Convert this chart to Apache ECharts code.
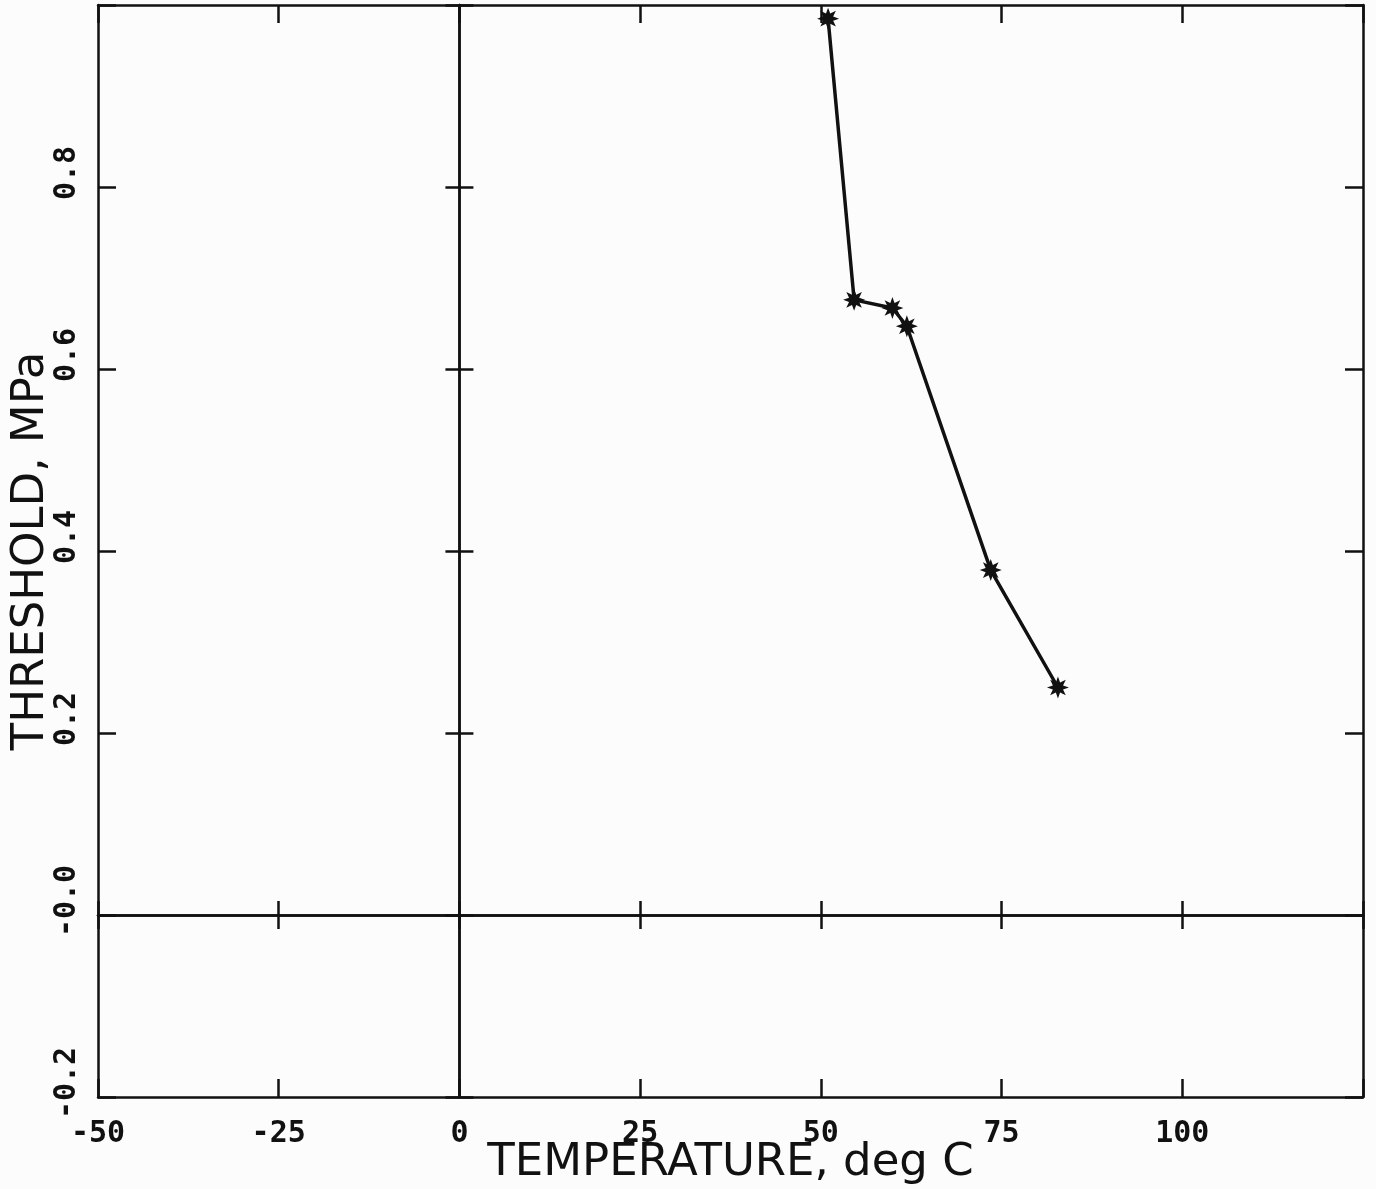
<!DOCTYPE html>
<html>
<head>
<meta charset="utf-8">
<script src="https://cdn.jsdelivr.net/npm/echarts@6/dist/echarts.min.js"></script>
<style>
  html, body { margin: 0; padding: 0; background: #fcfcfc; }
  #chart { width: 1376px; height: 1189px; }
</style>
</head>
<body>
<div id="chart"></div>
<script>
// values
var temperature = [51.0, 54.6, 59.9, 61.9, 73.5, 82.8];
var threshold = [0.985, 0.676, 0.667, 0.647, 0.379, 0.250];

var xTicks = [-50, -25, 0, 25, 50, 75, 100];
var xTickLabels = ['-50', '-25', '0', '25', '50', '75', '100'];
var yTicks = [-0.2, 0, 0.2, 0.4, 0.6, 0.8];
var yTickLabels = ['-0.2', '-0.0', '0.2', '0.4', '0.6', '0.8'];

var ink = '#111';

function lookup(ticks, labels) {
  return function(v) {
    for (var i = 0; i < ticks.length; i++) {
      if (Math.abs(ticks[i] - v) < 1e-9) return labels[i];
    }
    return '';
  };
}

// 8 point star, looks like the plotter asterisk
function asterisk(n) {
  var d = '';
  for (var i = 0; i < n * 2; i++) {
    var a = Math.PI * i / n;
    var r = i % 2 ? 0.5 : 1;
    d += (i ? 'L' : 'M') + (50 + 50 * r * Math.cos(a)).toFixed(1) + ' ' +
      (50 + 50 * r * Math.sin(a)).toFixed(1);
  }
  return 'path://' + d + 'Z';
}

var line = {color: ink, width: 2.5};
var tickFont = {fontFamily: 'DejaVu Sans Mono', fontSize: 30, fontWeight: 'bold', color: ink};
var nameFont = {fontFamily: 'DejaVu Sans', fontSize: 45, color: ink};

function xFrame(extra) {
  var a = {
    type: 'value', min: -50, max: 125, interval: 25,
    axisLine: {onZero: false, lineStyle: line},
    axisTick: {inside: true, length: 18, lineStyle: line},
    axisLabel: {show: false},
    splitLine: {show: false},
  };
  return Object.assign(a, extra);
}

function yFrame(extra) {
  var a = {
    type: 'value', min: -0.2, max: 1.0, interval: 0.2,
    axisLine: {onZero: false, lineStyle: line},
    axisTick: {inside: true, length: 18, lineStyle: line},
    axisLabel: {show: false},
    splitLine: {show: false},
  };
  return Object.assign(a, extra);
}

var chart = echarts.init(document.getElementById('chart'));
chart.setOption({
  animation: false,
  backgroundColor: '#fcfcfc',
  grid: {left: 98, top: 5, right: 13, bottom: 92, outerBoundsMode: 'none'},
  xAxis: [
    xFrame({
      position: 'bottom',
      axisLabel: Object.assign({show: true, margin: 22,
        formatter: lookup(xTicks, xTickLabels)}, tickFont),
      name: 'TEMPERATURE, deg C',
      nameLocation: 'middle',
      nameGap: 44,
      nameMoveOverlap: false,
      nameTextStyle: nameFont,
    }),
    xFrame({position: 'top'}),
    // zero line, ticks cross it
    xFrame({position: 'bottom',
      axisLine: {onZero: true, onZeroAxisIndex: 0, lineStyle: line},
      axisTick: {inside: true, length: 14, lineStyle: line}}),
    xFrame({position: 'bottom',
      axisLine: {onZero: true, onZeroAxisIndex: 0, lineStyle: line},
      axisTick: {inside: false, length: 14, lineStyle: line}}),
  ],
  yAxis: [
    yFrame({
      position: 'left',
      // left padding nudges the rotated labels a bit upward, like the plotter did
      axisLabel: Object.assign({show: true, margin: 16, rotate: 90, padding: [0, 0, 0, 28],
        formatter: lookup(yTicks, yTickLabels)}, tickFont),
      name: 'THRESHOLD, MPa',
      nameLocation: 'middle',
      nameGap: 44,
      nameMoveOverlap: false,
      nameTextStyle: nameFont,
    }),
    yFrame({position: 'right'}),
    yFrame({position: 'left',
      axisLine: {onZero: true, onZeroAxisIndex: 0, lineStyle: line},
      axisTick: {inside: true, length: 14, lineStyle: line}}),
    yFrame({position: 'left',
      axisLine: {onZero: true, onZeroAxisIndex: 0, lineStyle: line},
      axisTick: {inside: false, length: 14, lineStyle: line}}),
  ],
  series: [
    {
      type: 'line',
      xAxisIndex: 0,
      yAxisIndex: 0,
      data: temperature.map(function(t, i) { return [t, threshold[i]]; }),
      symbol: asterisk(8),
      symbolSize: 22,
      lineStyle: {color: ink, width: 3.5},
      itemStyle: {color: ink},
    },
  ],
});
</script>
</body>
</html>
